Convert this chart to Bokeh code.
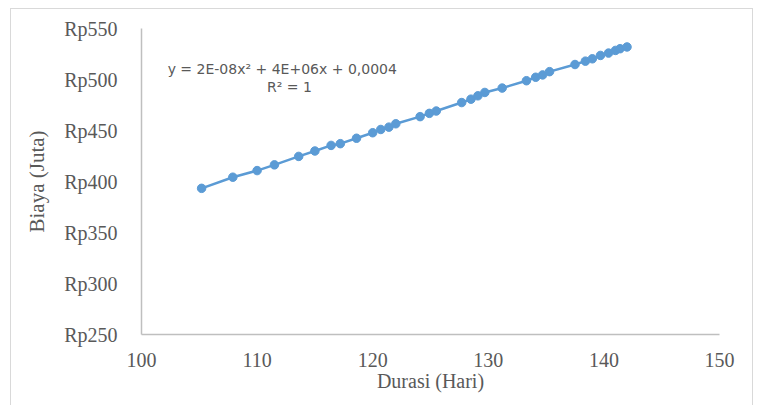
from bokeh.plotting import figure
from bokeh.models import Range1d, FixedTicker, CustomJSTickFormatter, Label
from bokeh.embed import file_html
from bokeh.resources import INLINE

# Project duration (days) and cost (million Rupiah)
durasi = [105.2, 107.9, 110.0, 111.5, 113.6, 115.0, 116.4, 117.2, 118.6, 120.0,
          120.7, 121.4, 122.0, 124.1, 124.9, 125.5, 127.7, 128.5, 129.1, 129.7,
          131.2, 133.3, 134.1, 134.7, 135.3, 137.5, 138.4, 139.0, 139.7, 140.4,
          141.0, 141.4, 142.0]
biaya = [393.3, 404.2, 410.7, 416.3, 424.6, 429.9, 435.4, 437.1, 442.4, 447.8,
         451.0, 453.3, 456.6, 463.6, 466.8, 469.1, 477.4, 480.7, 484.0, 487.3,
         491.6, 498.8, 502.2, 504.5, 507.7, 514.7, 518.0, 520.3, 523.6, 525.9,
         528.5, 530.2, 531.9]

x_ticks = [100, 110, 120, 130, 140, 150]
y_ticks = [250, 300, 350, 400, 450, 500, 550]

equation = "y = 2E-08x\u00b2 + 4E+06x + 0,0004"
r_squared = "R\u00b2 = 1"

BLUE = "#5B9BD5"
GRAY_TEXT = "#595959"
AXIS_GRAY = "#BFBFBF"
SERIF = "Liberation Serif"

p = figure(width=743, height=400, output_backend="svg", toolbar_location=None,
           x_range=Range1d(100, 150), y_range=Range1d(250, 550))
# light border round the whole chart area
p.margin = (8, 0, 0, 10)
p.styles = {"border": "1px solid #D9D9D9", "box-sizing": "border-box"}
p.min_border_left = 130
p.min_border_right = 35
p.min_border_top = 19
p.min_border_bottom = 75
p.outline_line_color = None
p.background_fill_color = "white"
p.border_fill_color = "white"
p.xgrid.grid_line_color = None
p.ygrid.grid_line_color = None

for ax in (p.xaxis[0], p.yaxis[0]):
    ax.axis_line_color = AXIS_GRAY
    ax.axis_line_width = 1.5
    ax.major_tick_line_color = None
    ax.minor_tick_line_color = None
    ax.major_label_text_font = SERIF
    ax.major_label_text_font_size = "20px"
    ax.major_label_text_color = GRAY_TEXT
    ax.axis_label_text_font = SERIF
    ax.axis_label_text_font_size = "20px"
    ax.axis_label_text_font_style = "normal"
    ax.axis_label_text_color = GRAY_TEXT

p.xaxis.ticker = FixedTicker(ticks=x_ticks)
p.xaxis.major_label_standoff = 12
p.xaxis.axis_label = "Durasi (Hari)"
p.xaxis.axis_label_standoff = 0

p.yaxis.ticker = FixedTicker(ticks=y_ticks)
p.yaxis.formatter = CustomJSTickFormatter(code="return 'Rp' + tick;")
p.yaxis.major_label_standoff = 18
p.yaxis.axis_label = "Biaya (Juta)"
p.yaxis.axis_label_text_font_size = "21px"
p.yaxis.axis_label_standoff = 12

# trendline and data points
p.line(durasi, biaya, line_color=BLUE, line_width=2.5)
p.scatter(durasi, biaya, size=8.5, fill_color=BLUE, line_color=BLUE)

p.add_layout(Label(x=102.26, y=510.4, text=equation, text_font="DejaVu Sans",
                   text_font_size="14px", text_color=GRAY_TEXT,
                   text_baseline="middle", text_align="left"))
p.add_layout(Label(x=112.8, y=492.6, text=r_squared, text_font="DejaVu Sans",
                   text_font_size="14px", text_color=GRAY_TEXT,
                   text_baseline="middle", text_align="center"))

open("out.html", "w").write(file_html(p, INLINE))
